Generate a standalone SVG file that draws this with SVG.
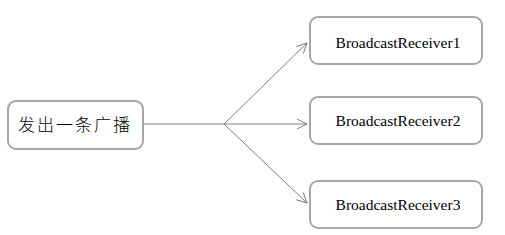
<svg xmlns="http://www.w3.org/2000/svg" width="505" height="235" viewBox="0 0 505 235">
<defs>
<style>
.box{fill:#fff;stroke:#a6a6a6;stroke-width:2}
.lbl{font-family:"Liberation Serif","Times New Roman",serif;font-size:15.5px;fill:#000;text-anchor:middle}
.cjk{font-family:"Noto Sans CJK SC","Noto Sans",sans-serif;font-size:17px;font-weight:300;fill:#000;text-anchor:middle;letter-spacing:2px}
.edge{stroke:#808080;stroke-width:1;fill:none}
</style>
<marker id="arr" viewBox="0 0 12 12" refX="11" refY="6" markerWidth="12" markerHeight="12" markerUnits="userSpaceOnUse" orient="auto">
<path d="M1,1 L11,6 L1,11" fill="none" stroke="#808080" stroke-width="1"/>
</marker>
</defs>
<rect width="505" height="235" fill="#fff"/>
<g id="connectors">
<line class="edge" x1="143" y1="124" x2="224" y2="124"/>
<line class="edge" x1="224" y1="124" x2="307" y2="43" marker-end="url(#arr)"/>
<line class="edge" x1="224" y1="124" x2="307" y2="124" marker-end="url(#arr)"/>
<line class="edge" x1="224" y1="124" x2="307" y2="203" marker-end="url(#arr)"/>
</g>
<g id="sender">
<rect class="box" x="8" y="101" width="135" height="48" rx="8"/>
<text class="cjk" x="75" y="131">发出一条广播</text>
</g>
<g id="receiver1">
<rect class="box" x="310" y="17" width="172" height="47" rx="8"/>
<text class="lbl" x="398" y="48">BroadcastReceiver1</text>
</g>
<g id="receiver2">
<rect class="box" x="310" y="97" width="172" height="47" rx="8"/>
<text class="lbl" x="398" y="126">BroadcastReceiver2</text>
</g>
<g id="receiver3">
<rect class="box" x="310" y="181" width="172" height="47" rx="8"/>
<text class="lbl" x="398" y="210">BroadcastReceiver3</text>
</g>
</svg>
